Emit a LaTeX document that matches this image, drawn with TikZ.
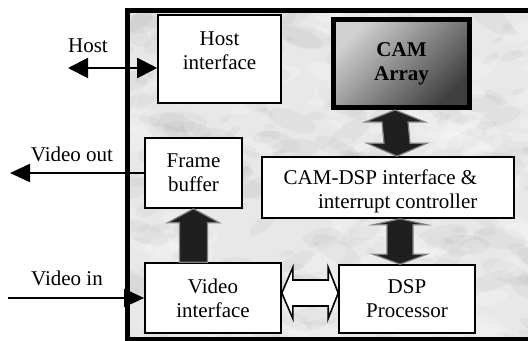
\documentclass[tikz,border=0pt]{standalone}
\usepackage{fontspec}
\setmainfont{Liberation Serif}
\usetikzlibrary{arrows.meta,calc}

\tikzset{
    block/.style={draw, line width=0.8pt, fill=white, inner sep=0pt},
    blockarrow/.style={fill=black!88, draw=gray, line width=0.6pt, line join=miter},
    hollowarrow/.style={fill=white, draw=black, line width=0.8pt, line join=miter},
    thinarrow/.style={line width=1pt},
}

\begin{document}
\begin{tikzpicture}[x=0.5pt, y=-0.5pt, font=\fontsize{10.5}{12}\selectfont]

    \useasboundingbox (0,0) rectangle (528,341);

    % marbled board
    \begin{scope}
        \clip (127,11) rectangle (540,339);
        \fill[black!9] (127,11) rectangle (540,339);
        \pgfmathsetseed{42}
        \foreach \k in {1,...,220} {
            \pgfmathsetmacro\mx{127+410*rnd}
            \pgfmathsetmacro\my{11+328*rnd}
            \pgfmathsetmacro\mr{2+9*rnd}
            \pgfmathsetmacro\ma{-40+80*rnd}
            \fill[gray, opacity=0.07, rotate around={\ma:(\mx,\my)}]
                (\mx,\my) ellipse [x radius=2.5*\mr, y radius=\mr];
        }
        \foreach \k in {1,...,120} {
            \pgfmathsetmacro\mx{127+410*rnd}
            \pgfmathsetmacro\my{11+328*rnd}
            \pgfmathsetmacro\mr{3+8*rnd}
            \pgfmathsetmacro\ma{-40+80*rnd}
            \fill[white, opacity=0.18, rotate around={\ma:(\mx,\my)}]
                (\mx,\my) ellipse [x radius=2.5*\mr, y radius=\mr];
        }
    \end{scope}
    \draw[line width=2.5pt] (540,11) -- (127,11) -- (127,339) -- (540,339);

    % blocks
    \node[block, minimum width=61.5pt, minimum height=44pt] (hostif) at (219.5,59) {};
    \node[align=center] (hosttext) at (219.5,51) {Host\\interface};

    \node[draw=black, line width=2.5pt, top color=black!18, bottom color=black!75,
          shading angle=45, minimum width=68pt, minimum height=44pt,
          align=center, font=\fontsize{10.5}{12}\selectfont\bfseries] (cam) at (401.5,63.5) {CAM\\Array};

    \node[block, minimum width=126pt, minimum height=30.5pt] (camdsp) at (388,187.5) {};
    \node[align=right] (camdsptext) at (380.5,191) {CAM-DSP interface \&\\interrupt controller};

    \node[block, minimum width=48.5pt, minimum height=35pt, align=center] (framebuf) at (193.5,173) {Frame\\buffer};
    \node[block, minimum width=68pt, minimum height=35pt, align=center] (videoif) at (213,298) {Video\\interface};
    \node[block, minimum width=68pt, minimum height=34pt, align=center] (dsp) at (407,299) {DSP\\Processor};

    % wide arrows between blocks
    \filldraw[blockarrow] ($(cam.south)+(-6.5,0)$) -- ++(30,12) -- ++(-17,0)
        -- ($(camdsp.north)+(22,-13)$) -- ++(17,0) -- ($(camdsp.north)+(9,0)$)
        -- ++(-30,-13) -- ++(17,0) -- ($(cam.south)+(-19.5,12)$) -- ++(-17,0) -- cycle;

    \filldraw[blockarrow] ($(camdsp.south)+(12,0)$) -- ++(27,6) -- ++(-14,0)
        -- ($(dsp.north)+(6,-10)$) -- ++(14,0) -- ($(dsp.north)+(-7,0)$)
        -- ++(-27,-10) -- ++(14,0) -- ($(camdsp.south)+(-1,6)$) -- ++(-14,0) -- cycle;

    \filldraw[blockarrow] (framebuf.south) -- ++(26,14) -- ++(-12,0)
        -- ($(videoif.north)+(-5.5,0)$) -- ++(-28,0)
        -- ($(framebuf.south)+(-14,14)$) -- ++(-12,0) -- cycle;

    \filldraw[hollowarrow] ($(videoif.east)+(0,-5)$) -- ++(11,-25.5) -- ++(0,12.5)
        -- ($(dsp.west)+(-10,-19)$) -- ++(0,-12.5) -- ($(dsp.west)+(0,-6)$)
        -- ++(-10,25.5) -- ++(0,-12.5) -- ($(videoif.east)+(11,8)$) -- ++(0,12.5) -- cycle;

    % outside connections
    \coordinate (hostend) at (68,68);
    \coordinate (videoutend) at (10,173);
    \coordinate (videoinend) at (8,298);

    \draw[thinarrow, {Triangle[width=10pt,length=10pt]}-{Triangle[width=10pt,length=10pt]}]
        (hostend) -- (hostend -| hostif.west);
    \draw[thinarrow, -{Triangle[width=9pt,length=10pt]}] (framebuf.west) -- (videoutend);
    \draw[thinarrow, -{Triangle[width=9pt,length=10pt]}] (videoinend) -- (videoif.west);

    \node[anchor=base] (hostlabel) at (88,53) {Host};
    \node[anchor=base] (videoutlabel) at (72,162) {Video out};
    \node[anchor=base] (videoinlabel) at (67,285) {Video in};

\end{tikzpicture}
\end{document}
